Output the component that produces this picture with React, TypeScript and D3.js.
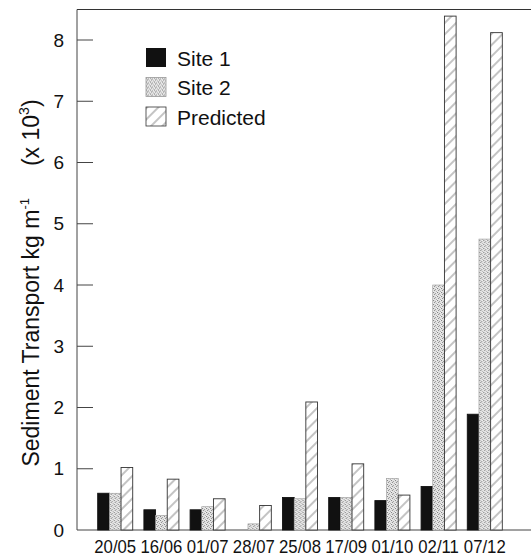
import React from "react";
import * as d3 from "d3";

const dates = ["20/05", "16/06", "01/07", "28/07", "25/08", "17/09", "01/10", "02/11", "07/12"];
const site1 = [0.6, 0.33, 0.33, 0, 0.53, 0.53, 0.48, 0.71, 1.89];
const site2 = [0.6, 0.24, 0.38, 0.1, 0.51, 0.53, 0.84, 4.0, 4.75];
const predicted = [1.02, 0.83, 0.51, 0.4, 2.09, 1.08, 0.57, 8.39, 8.12];
const seriesNames = ["Site 1", "Site 2", "Predicted"];
const yTicks = [1, 2, 3, 4, 5, 6, 7, 8];

const W = 531;
const H = 558;
const left = 77;
const top = 9.5;
const bottom = 530;
const FONT = "'Liberation Sans', Arial, Helvetica, sans-serif";

export default function App() {
  const y = d3.scaleLinear().domain([0, 8.5]).range([bottom, bottom - 8.5 * 61.25]);
  const x = d3
    .scaleBand<string>()
    .domain(dates)
    .range([left, 523])
    .paddingInner(0.242)
    .paddingOuter(0.448);
  const xi = d3.scaleBand<string>().domain(seriesNames).range([0, x.bandwidth()]).paddingInner(0);
  const series = [site1, site2, predicted];
  const fills = ["#111", "url(#stipple)", "url(#hatch)"];
  const strokes = ["#111", "#999", "#333"];

  return (
    <svg width={W} height={H} style={{ position: "absolute", left: 0, top: 0, background: "#fff" }}>
      <defs>
        <pattern id="stipple" width="4" height="4" patternUnits="userSpaceOnUse">
          <rect width="4" height="4" fill="#e2e2e2" />
          <rect x="0" y="0" width="1" height="1" fill="#7a7a7a" />
          <rect x="2" y="1" width="1" height="1" fill="#9a9a9a" />
          <rect x="1" y="2" width="1" height="1" fill="#8a8a8a" />
          <rect x="3" y="3" width="1" height="1" fill="#aaa" />
          <rect x="3" y="0" width="1" height="1" fill="#f4f4f4" />
          <rect x="0" y="3" width="1" height="1" fill="#f4f4f4" />
        </pattern>
        <pattern
          id="hatch"
          width="8"
          height="8"
          patternUnits="userSpaceOnUse"
          patternTransform="rotate(-45)"
        >
          <rect width="8" height="8" fill="#fff" />
          <line x1="0" y1="1" x2="8" y2="1" stroke="#555" strokeWidth="0.7" />
        </pattern>
      </defs>

      {/* frame */}
      <line x1={left} y1={top} x2={W} y2={top} stroke="#333" strokeWidth={1.2} />
      <line x1={left} y1={top} x2={left} y2={bottom} stroke="#444" strokeWidth={1} />
      <line x1={left} y1={bottom} x2={W} y2={bottom} stroke="#444" strokeWidth={1} />

      {/* y ticks */}
      {yTicks.map((t) => (
        <g key={t}>
          <line x1={left} x2={left + 16} y1={y(t)} y2={y(t)} stroke="#444" strokeWidth={1} />
          <text
            x={64}
            y={y(t)}
            textAnchor="end"
            dominantBaseline="central"
            fontFamily={FONT}
            fontSize={19}
            fill="#111"
          >
            {t}
          </text>
        </g>
      ))}
      <text x={64} y={y(0)} textAnchor="end" dominantBaseline="central" fontFamily={FONT} fontSize={19} fill="#111">
        0
      </text>

      {/* y title */}
      <g transform={`translate(39, 283) rotate(-90)`}>
        <text textAnchor="middle" fontFamily={FONT} fontSize={23} fill="#111">
          Sediment Transport kg m
          <tspan fontSize={13} dy={-10}>
            -1
          </tspan>
          <tspan dy={10} dx={32}>
            (x 10
          </tspan>
          <tspan fontSize={14} dy={-10}>
            3
          </tspan>
          <tspan dy={10}>)</tspan>
        </text>
      </g>

      {/* bars */}
      {dates.map((d, i) => (
        <g key={d} transform={`translate(${x(d)},0)`}>
          {series.map((s, j) =>
            s[i] > 0 ? (
              <rect
                key={j}
                x={xi(seriesNames[j])}
                y={y(s[i])}
                width={xi.bandwidth()}
                height={bottom - y(s[i])}
                fill={fills[j]}
                stroke={strokes[j]}
                strokeWidth={j === 1 ? 0.6 : 0.9}
              />
            ) : null
          )}
        </g>
      ))}

      {/* x labels */}
      {dates.map((d) => (
        <text
          key={d}
          transform={`translate(${(x(d) as number) + x.bandwidth() / 2}, 553) scale(0.93,1)`}
          textAnchor="middle"
          fontFamily={FONT}
          fontSize={18}
          fill="#111"
        >
          {d}
        </text>
      ))}

      {/* legend */}
      {seriesNames.map((n, j) => (
        <g key={n} transform={`translate(146, ${48 + j * 29.5})`}>
          <rect width={20} height={19} fill={fills[j]} stroke={strokes[j]} strokeWidth={j === 0 ? 0 : 0.8} />
          <text x={31} y={17.5} fontFamily={FONT} fontSize={21} fill="#111">
            {n}
          </text>
        </g>
      ))}
    </svg>
  );
}
